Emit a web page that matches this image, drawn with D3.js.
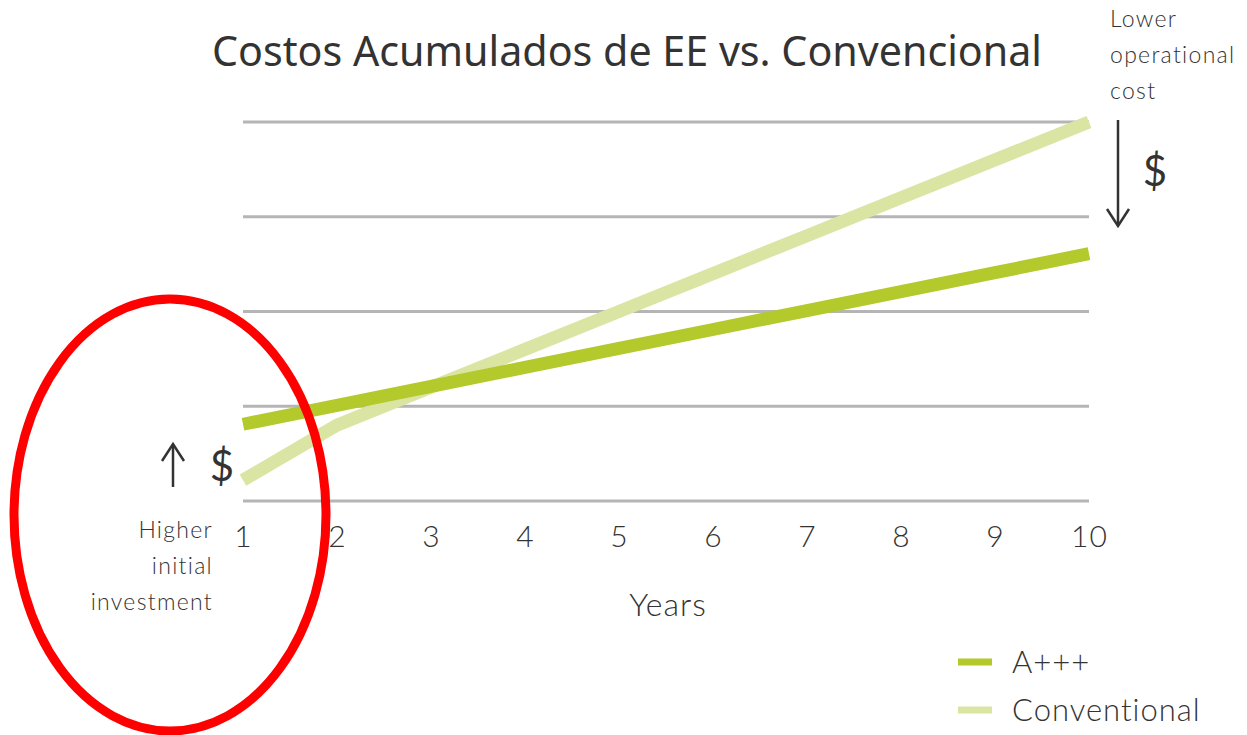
<!DOCTYPE html>
<html>
<head>
<meta charset="utf-8">
<script src="https://cdn.jsdelivr.net/npm/d3@7"></script>
<style>
  body { margin: 0; background: #fff; }
  svg text { fill: #333; }
</style>
</head>
<body>
<div id="chart"></div>
<script>
// chart data
var years = [1, 2, 3, 4, 5, 6, 7, 8, 9, 10];
var aplus = [0.81, 1.01, 1.21, 1.41, 1.61, 1.81, 2.01, 2.21, 2.41, 2.61];
var conventional = [0.22, 0.80, 1.20, 1.60, 2.00, 2.40, 2.80, 3.20, 3.60, 4.00];
var gridValues = [0, 1, 2, 3, 4];
var seriesNames = ["A+++", "Conventional"];
var seriesColors = ["#b4c92b", "#dbe5a3"];

var width = 1247, height = 735;

var svg = d3.select("#chart")
    .append("svg")
    .attr("width", width)
    .attr("height", height);

var x = d3.scaleLinear()
    .domain([1, 10])
    .range([243, 1089]);

var y = d3.scaleLinear()
    .domain([0, 4])
    .range([501, 122]);

// horizontal gridlines
svg.append("g")
    .selectAll("line")
    .data(gridValues)
    .enter().append("line")
    .attr("x1", x(1))
    .attr("x2", x(10))
    .attr("y1", d => y(d))
    .attr("y2", d => y(d))
    .attr("stroke", "#b5b5b5")
    .attr("stroke-width", 3);

// x axis, labels only
var xAxis = svg.append("g")
    .attr("transform", "translate(0," + y(0) + ")")
    .call(d3.axisBottom(x).tickValues(years).tickSize(0).tickPadding(25).tickFormat(d3.format("d")));
xAxis.select(".domain").remove();
xAxis.selectAll("text")
    .attr("font-family", "Lato")
    .attr("font-weight", 300)
    .attr("font-size", 30)
    .attr("letter-spacing", 1)
    .attr("fill", "#333");

svg.append("text")
    .attr("x", 668)
    .attr("y", 616)
    .attr("text-anchor", "middle")
    .attr("font-family", "Lato")
    .attr("font-weight", 300)
    .attr("font-size", 32)
    .attr("letter-spacing", 1)
    .text("Years");

// series lines
var line = d3.line()
    .x((d, i) => x(years[i]))
    .y(d => y(d));

svg.append("path")
    .datum(conventional)
    .attr("d", line)
    .attr("fill", "none")
    .attr("stroke", seriesColors[1])
    .attr("stroke-width", 13);

svg.append("path")
    .datum(aplus)
    .attr("d", line)
    .attr("fill", "none")
    .attr("stroke", seriesColors[0])
    .attr("stroke-width", 13);

// title
svg.append("text")
    .attr("x", 627)
    .attr("y", 66)
    .attr("text-anchor", "middle")
    .attr("font-family", "Noto Sans")
    .attr("font-size", 42)
    .attr("fill", "#222")
    .attr("textLength", 830)
    .attr("lengthAdjust", "spacingAndGlyphs")
    .text("Costos Acumulados de EE vs. Convencional");

// legend
var legend = svg.append("g")
    .selectAll("g")
    .data(seriesNames)
    .enter().append("g")
    .attr("transform", (d, i) => "translate(958," + (662 + i * 48) + ")");
legend.append("line")
    .attr("x1", 0).attr("x2", 34)
    .attr("stroke", (d, i) => seriesColors[i])
    .attr("stroke-width", 7);
legend.append("text")
    .attr("x", 54)
    .attr("y", 11)
    .attr("font-family", "Lato")
    .attr("font-weight", 300)
    .attr("font-size", 31)
    .attr("letter-spacing", 1)
    .text(d => d);

// annotations
var note = svg.append("g")
    .attr("font-family", "Lato")
    .attr("font-weight", 300)
    .attr("font-size", 23)
    .attr("letter-spacing", 1.3);

note.selectAll(".top")
    .data(["Lower", "operational", "cost"])
    .enter().append("text")
    .attr("x", 1110)
    .attr("y", (d, i) => 27 + i * 36)
    .text(d => d);

note.selectAll(".left")
    .data(["Higher", "initial", "investment"])
    .enter().append("text")
    .attr("x", 213)
    .attr("y", (d, i) => 538 + i * 36)
    .attr("text-anchor", "end")
    .text(d => d);

// arrows: shaft plus open head
function arrow(x0, y0, y1) {
    var dir = y1 > y0 ? -1 : 1;
    svg.append("line")
        .attr("x1", x0).attr("x2", x0)
        .attr("y1", y0).attr("y2", y1)
        .attr("stroke", "#333")
        .attr("stroke-width", 2.5);
    svg.append("path")
        .attr("d", "M" + (x0 - 11) + "," + (y1 + dir * 17) + " L" + x0 + "," + y1 + " L" + (x0 + 11) + "," + (y1 + dir * 17))
        .attr("fill", "none")
        .attr("stroke", "#333")
        .attr("stroke-width", 2.5);
}
arrow(1118, 120, 226);
arrow(173, 487, 444);

svg.append("text")
    .attr("x", 1155).attr("y", 186)
    .attr("text-anchor", "middle")
    .attr("font-family", "Lato")
    .attr("font-size", 42)
    .text("$");
svg.append("text")
    .attr("x", 222).attr("y", 481)
    .attr("text-anchor", "middle")
    .attr("font-family", "Lato")
    .attr("font-size", 42)
    .text("$");

// red highlight ellipse
svg.append("ellipse")
    .attr("cx", 170)
    .attr("cy", 515)
    .attr("rx", 156)
    .attr("ry", 216)
    .attr("fill", "none")
    .attr("stroke", "#ff0000")
    .attr("stroke-width", 9);
</script>
</body>
</html>
